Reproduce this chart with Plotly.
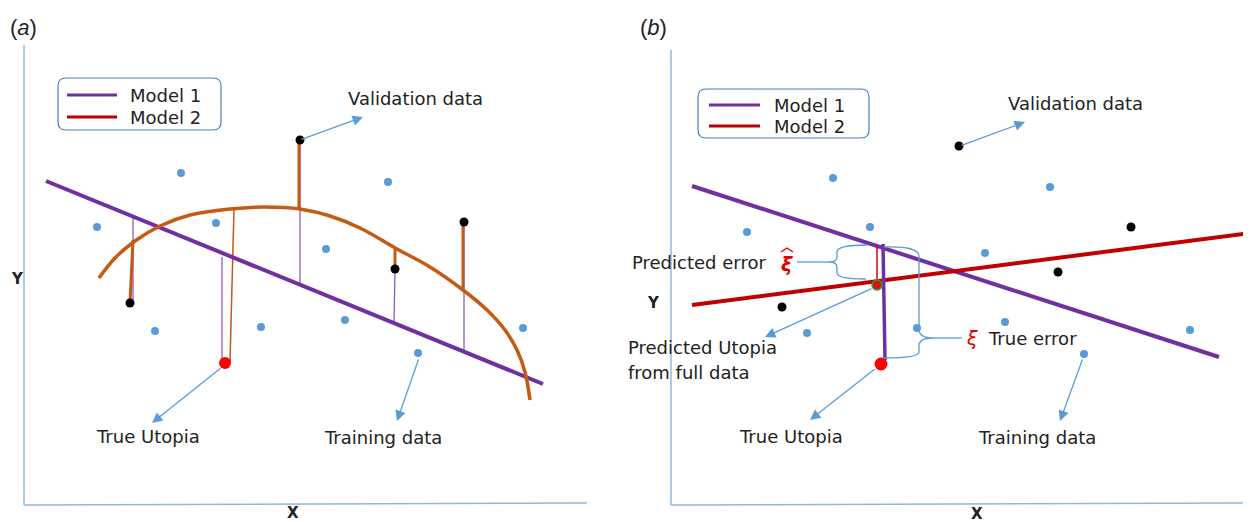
import plotly.graph_objects as go

# ---------------- data (schematic coordinates, y grows downward) ----------------
# Panel (a)
train_a_x = [97, 181, 216, 155, 261, 326, 388, 345, 418, 523]
train_a_y = [227, 173, 223, 331, 327, 249, 182, 320, 353, 328]
valid_a_x = [300, 130, 395, 464]
valid_a_y = [140, 303, 269, 222]
utopia_a_x = [225]
utopia_a_y = [363]
model1_a_x = [46, 543]
model1_a_y = [181, 384]
model2_a_x = [99, 115, 135, 160, 190, 230, 265, 300, 330, 360, 397, 430, 463, 487, 505, 517, 525, 530]
model2_a_y = [278, 258, 241, 226, 215, 209, 207, 209, 216, 228, 249, 267, 290, 310, 330, 350, 372, 400]
# residual segments (x0, y0, x1, y1)
res_m1_a = [(133, 216, 133, 303), (222, 257, 222, 362), (300, 140, 300, 284), (395, 269, 394, 324), (464, 222, 464, 350)]
res_m2_valid_a = [(130, 303, 133, 240), (299, 140, 299, 210), (395, 269, 395, 249), (463, 222, 463, 290)]
res_m2_utopia_a = [(230, 362, 234, 209)]

# Panel (b)
train_b_x = [747, 833, 870, 807, 985, 1050, 917, 1005, 1084, 1190]
train_b_y = [232, 178, 227, 333, 253, 187, 328, 322, 354, 330]
valid_b_x = [959, 782, 1058, 1131]
valid_b_y = [146, 307, 272, 227]
utopia_b_x = [881]
utopia_b_y = [364]
pred_utopia_x = [877]
pred_utopia_y = [285]
model1_b_x = [692, 1219]
model1_b_y = [186, 357]
model2_b_x = [692, 1251]
model2_b_y = [305, 233]
pred_err_x = [877, 877]
pred_err_y = [246, 285]
true_err_x = [883, 885]
true_err_y = [244, 360]

PURPLE = "#7030A0"
RED = "#C00000"
ORANGE = "#C55A11"
BLUE = "#5B9BD5"
AXIS = "#8DB8E2"
TXT = "#222222"
FONT = "DejaVu Sans"
FS = 18

# page body has an 8px margin: the figure is shrunk by 8px and ranges start at 8
OFF = 8
W, H = 1251, 522

fig = go.Figure()

def seg_trace(segs, color, width):
    xs, ys = [], []
    for x0, y0, x1, y1 in segs:
        xs += [x0, x1, None]
        ys += [y0, y1, None]
    return go.Scatter(x=xs, y=ys, mode="lines", line=dict(color=color, width=width),
                      hoverinfo="skip", showlegend=False)

# ---- panel (a) ----
fig.add_trace(seg_trace(res_m1_a, "#8E5CC2", 1.3))
fig.add_trace(seg_trace(res_m2_valid_a, ORANGE, 3))
fig.add_trace(seg_trace(res_m2_utopia_a, ORANGE, 1.5))
fig.add_trace(go.Scatter(x=model1_a_x, y=model1_a_y, mode="lines",
                         line=dict(color=PURPLE, width=4), showlegend=False))
fig.add_trace(go.Scatter(x=model2_a_x, y=model2_a_y, mode="lines",
                         line=dict(color=ORANGE, width=3.5, shape="spline"), showlegend=False))
fig.add_trace(go.Scatter(x=train_a_x, y=train_a_y, mode="markers",
                         marker=dict(color=BLUE, size=8), showlegend=False))
fig.add_trace(go.Scatter(x=valid_a_x, y=valid_a_y, mode="markers",
                         marker=dict(color="black", size=9), showlegend=False))
fig.add_trace(go.Scatter(x=utopia_a_x, y=utopia_a_y, mode="markers",
                         marker=dict(color="#FF0000", size=12), showlegend=False))

# ---- panel (b) ----
fig.add_trace(go.Scatter(x=model1_b_x, y=model1_b_y, mode="lines",
                         line=dict(color=PURPLE, width=4), showlegend=False))
fig.add_trace(go.Scatter(x=model2_b_x, y=model2_b_y, mode="lines",
                         line=dict(color=RED, width=4), showlegend=False))
fig.add_trace(go.Scatter(x=pred_err_x, y=pred_err_y, mode="lines",
                         line=dict(color="#E00000", width=1.5), showlegend=False))
fig.add_trace(go.Scatter(x=true_err_x, y=true_err_y, mode="lines",
                         line=dict(color=PURPLE, width=3.5), showlegend=False))
fig.add_trace(go.Scatter(x=train_b_x, y=train_b_y, mode="markers",
                         marker=dict(color=BLUE, size=8), showlegend=False))
fig.add_trace(go.Scatter(x=valid_b_x, y=valid_b_y, mode="markers",
                         marker=dict(color="black", size=9), showlegend=False))
fig.add_trace(go.Scatter(x=utopia_b_x, y=utopia_b_y, mode="markers",
                         marker=dict(color="#FF0000", size=13), showlegend=False))
fig.add_trace(go.Scatter(x=pred_utopia_x, y=pred_utopia_y, mode="markers",
                         marker=dict(color="#E01010", size=10, line=dict(color="#3A9A3A", width=1.5)),
                         showlegend=False))

shapes = []
# axes lines
shapes += [
    dict(type="line", x0=24, y0=45, x1=24, y1=505, line=dict(color=AXIS, width=1.5)),
    dict(type="line", x0=24, y0=505, x1=587, y1=503, line=dict(color=AXIS, width=1.5)),
    dict(type="line", x0=671, y0=50, x1=671, y1=505, line=dict(color=AXIS, width=1.5)),
    dict(type="line", x0=671, y0=505, x1=1251, y1=503, line=dict(color=AXIS, width=1.5)),
]

def rrect(x0, y0, x1, y1, r=8):
    return (f"M {x0+r},{y0} L {x1-r},{y0} Q {x1},{y0} {x1},{y0+r} L {x1},{y1-r} "
            f"Q {x1},{y1} {x1-r},{y1} L {x0+r},{y1} Q {x0},{y1} {x0},{y1-r} "
            f"L {x0},{y0+r} Q {x0},{y0} {x0+r},{y0} Z")

# legends
for (bx0, by0, bx1, by1) in [(58, 78, 221, 130), (698, 89, 869, 138)]:
    shapes.append(dict(type="path", path=rrect(bx0, by0, bx1, by1), line=dict(color="#4A7FBF", width=1.2)))
legend_items = [
    (67, 117, 95, PURPLE, "Model 1", 128),
    (67, 117, 117, RED, "Model 2", 128),
    (709, 760, 105, PURPLE, "Model 1", 772),
    (709, 760, 126, RED, "Model 2", 772),
]
for x0, x1, y, col, _, _ in legend_items:
    shapes.append(dict(type="line", x0=x0, x1=x1, y0=y, y1=y, line=dict(color=col, width=3)))

# braces
shapes.append(dict(type="path",
                   path="M 867,245 Q 837,245 837,252 L 837,257 Q 837,262 829,262 Q 837,262 837,267 "
                        "L 837,273 Q 837,279 866,279",
                   line=dict(color=BLUE, width=1.3)))
shapes.append(dict(type="line", x0=829, y0=262, x1=797, y1=262, line=dict(color=BLUE, width=1.3)))
shapes.append(dict(type="path",
                   path="M 884,247 Q 919,246 919,256 L 919,329 Q 919,338 933,338 Q 919,338 919,346 "
                        "L 919,352 Q 919,358 884,358",
                   line=dict(color=BLUE, width=1.3)))
shapes.append(dict(type="line", x0=933, y0=338, x1=962, y1=338, line=dict(color=BLUE, width=1.3)))
# hat over the predicted-error xi
shapes.append(dict(type="path", path="M 781,252 L 787,248 L 793,252", line=dict(color="#E00000", width=1.4)))

for s in shapes:
    s.setdefault("xref", "x")
    s.setdefault("yref", "y")
    s["layer"] = "above"
fig.update_layout(shapes=shapes)

ann = []
def txt(x, y, s, size=FS, color=TXT, xanchor="center", family=FONT):
    ann.append(dict(x=x, y=y, xref="x", yref="y", text=s, showarrow=False, xanchor=xanchor,
                    yanchor="middle", font=dict(family=family, size=size, color=color)))

for _, _, y, _, label, tx in legend_items:
    txt(tx, y, label, xanchor="left")

txt(8, 27, "(<i>a</i>)", size=22, xanchor="left", family="Liberation Sans")
txt(638, 27, "(<i>b</i>)", size=22, xanchor="left", family="Liberation Sans")

txt(9, 279, "<b>Y</b>", size=15, xanchor="left")
txt(293, 513, "<b>X</b>", size=15)
txt(653, 303, "<b>Y</b>", size=15)
txt(977, 514, "<b>X</b>", size=15)

txt(346, 98, "Validation data", xanchor="left")
txt(148, 436, "True Utopia")
txt(383, 437, "Training data")
txt(1006, 103, "Validation data", xanchor="left")
txt(791, 436, "True Utopia")
txt(1037, 437, "Training data")
txt(630, 262, "Predicted error", xanchor="left")
txt(787, 264, "<b><i>ξ</i></b>", size=19, color="#E00000")
txt(626, 347, "Predicted Utopia", xanchor="left")
txt(626, 372, "from full data", xanchor="left")
txt(972, 338, "<i>ξ</i>", size=19, color="#E00000")
txt(986, 338, "True error", xanchor="left")

# arrows (head x,y ; tail ax,ay)
arrows = [
    (363, 117, 300, 140),
    (152, 423, 222, 367),
    (397, 421, 419, 358),
    (1025, 122, 960, 146),
    (765, 337, 873, 288),
    (810, 420, 876, 368),
    (1060, 421, 1083, 358),
]
for hx, hy, tx_, ty_ in arrows:
    ann.append(dict(x=hx, y=hy, ax=tx_, ay=ty_, xref="x", yref="y", axref="x", ayref="y",
                    text="", showarrow=True, arrowhead=2, arrowsize=1.6, arrowwidth=1.3,
                    arrowcolor=BLUE, standoff=0, startstandoff=0))

fig.update_layout(annotations=ann)

fig.update_layout(
    width=W - OFF, height=H - OFF,
    margin=dict(l=0, r=0, t=0, b=0),
    paper_bgcolor="white", plot_bgcolor="white",
    xaxis=dict(range=[OFF, W], visible=False, fixedrange=True),
    yaxis=dict(range=[H, OFF], visible=False, fixedrange=True),
    showlegend=False,
)

fig.write_html("out.html")
